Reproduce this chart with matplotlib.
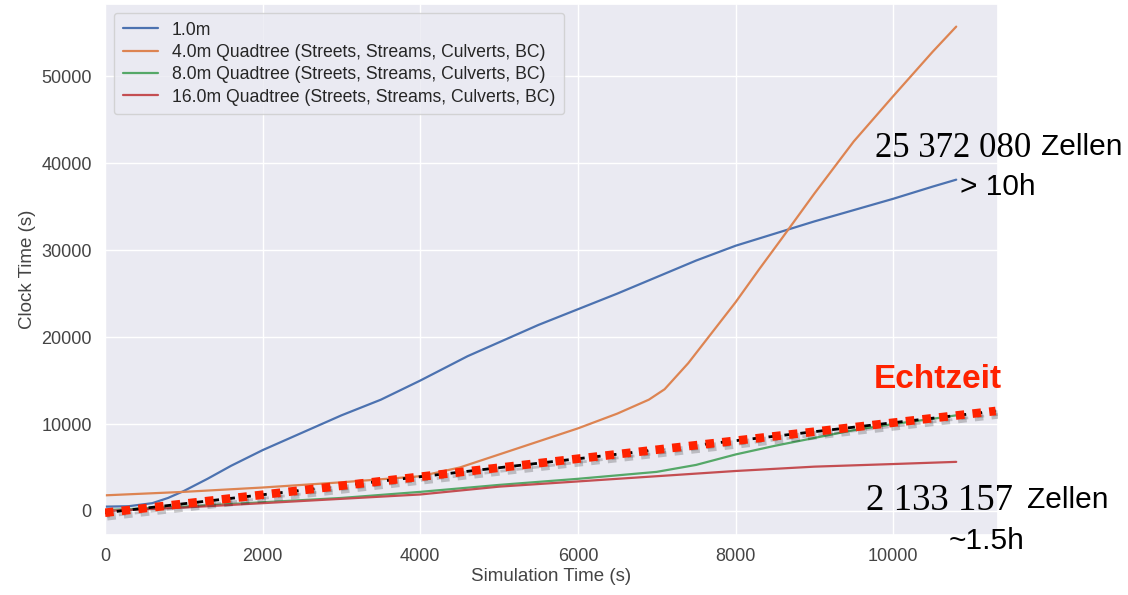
import numpy as np
import matplotlib.pyplot as plt
import matplotlib.patheffects as pe
import seaborn as sns

blue_x = [0, 300, 600, 800, 1000, 1300, 1600, 2000, 2500, 3000, 3500, 4000, 4300, 4600, 5000,
          5500, 6000, 6500, 7000, 7500, 8000, 8500, 9000, 9500, 10000, 10500, 10800]
blue_y = [500, 550, 900, 1500, 2300, 3700, 5200, 7000, 9000, 11000, 12800, 15000, 16400, 17800, 19400,
          21400, 23200, 25000, 26900, 28800, 30500, 31900, 33300, 34600, 35900, 37300, 38100]

orange_x = [0, 1000, 2000, 3000, 4000, 4500, 5000, 5500, 6000, 6500, 6900, 7100, 7400,
            7700, 8000, 8300, 8600, 9000, 9500, 10000, 10500, 10800]
orange_y = [1800, 2200, 2700, 3300, 4000, 5000, 6500, 8000, 9500, 11200, 12800, 14000, 17000,
            20500, 24000, 27800, 31500, 36500, 42500, 47700, 52800, 55700]

green_x = [0, 1000, 2000, 3000, 4000, 5000, 6000, 7000, 7500, 8000, 8500, 9000, 9500,
           10000, 10500, 10800]
green_y = [100, 500, 1000, 1500, 2200, 3000, 3700, 4500, 5300, 6500, 7500, 8400, 9300,
           10000, 10600, 11000]

red_x = [0, 1000, 2000, 3000, 4000, 5000, 6000, 7000, 8000, 9000, 10000, 10800]
red_y = [0, 400, 900, 1400, 1900, 2800, 3400, 4000, 4600, 5100, 5400, 5650]

realtime_x = [0, 11300]
realtime_y = [-200, 11500]

labels = ["1.0m",
          "4.0m Quadtree (Streets, Streams, Culverts, BC)",
          "8.0m Quadtree (Streets, Streams, Culverts, BC)",
          "16.0m Quadtree (Streets, Streams, Culverts, BC)"]

sns.set_theme(style="darkgrid")
plt.rcParams['font.family'] = ['Liberation Sans', 'DejaVu Sans']

fig = plt.figure(figsize=(11.28, 5.95), dpi=100)
ax = fig.add_axes([105 / 1128, 60 / 595, 893 / 1128, 531 / 595])

ax.plot(blue_x, blue_y, color='#4C72B0', linewidth=1.6, label=labels[0])
ax.plot(orange_x, orange_y, color='#DD8452', linewidth=1.6, label=labels[1])
ax.plot(green_x, green_y, color='#55A868', linewidth=1.6, label=labels[2])
ax.plot(red_x, red_y, color='#C44E52', linewidth=1.6, label=labels[3])

# Echtzeit: black dashes under thick red squares, both with a soft shadow
shadow = [pe.SimpleLineShadow(offset=(1.5, -2.5), alpha=0.2, shadow_color='black'), pe.Normal()]
ax.plot(realtime_x, realtime_y, color='black', linewidth=2, linestyle=(1.5, (2.5, 3.26)),
        path_effects=shadow, zorder=5)
ax.plot(realtime_x, realtime_y, color='#FF2200', linewidth=6.2, linestyle=(0, (1, 0.95)),
        dash_capstyle='butt', path_effects=shadow, zorder=6)

ax.set_xlim(0, 11330)
ax.set_ylim(-2760, 58300)
ax.set_xticks([0, 2000, 4000, 6000, 8000, 10000])
ax.set_yticks([0, 10000, 20000, 30000, 40000, 50000])
ax.tick_params(labelsize=13, colors='#444444')
ax.set_xlabel('Simulation Time (s)', fontsize=13.5, color='#444444', labelpad=2)
ax.set_ylabel('Clock Time (s)', fontsize=13.5, color='#444444')
ax.legend(loc='upper left', fontsize=12.7, handlelength=2.0, borderpad=0.5, labelspacing=0.3)


def px(x, y):
    return x / 1128, 1 - y / 595


fig.text(*px(875, 157), '25 372 080', family='Liberation Serif', fontsize=25, color='black', va='baseline')
fig.text(*px(1041, 155), 'Zellen', fontsize=21.5, color='black', va='baseline')
fig.text(*px(960, 195), '> 10h', fontsize=21.5, color='black', va='baseline')
fig.text(*px(874, 388), 'Echtzeit', fontsize=24, fontweight='bold', color='#FF2200', va='baseline')
fig.text(*px(866, 510), '2 133 157', family='Liberation Serif', fontsize=26.5, color='black', va='baseline')
fig.text(*px(1027, 508), 'Zellen', fontsize=21.5, color='black', va='baseline')
fig.text(*px(949, 549), '~1.5h', fontsize=21.5, color='black', va='baseline')

fig.savefig('out.png', dpi=100)
